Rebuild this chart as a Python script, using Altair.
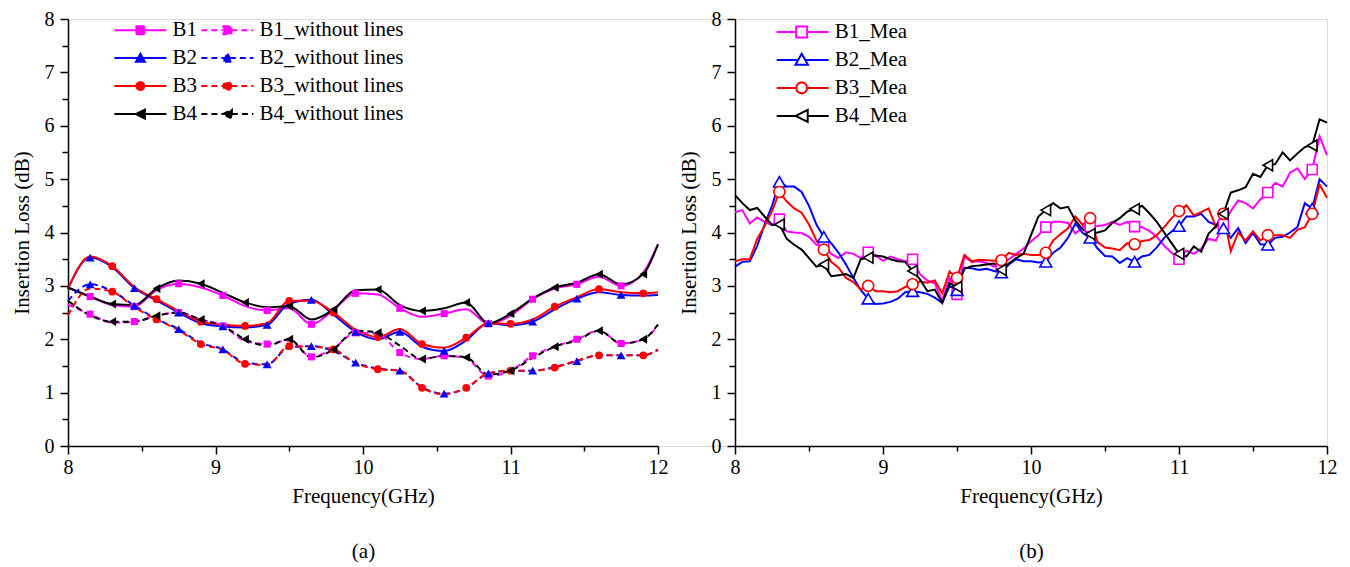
import math
import altair as alt
import pandas as pd

FONT = "Liberation Serif"

# ---------------- panel (a): simulated ----------------
FREQ_A = [8.0, 8.15, 8.3, 8.45, 8.6, 8.75, 8.9, 9.05, 9.2, 9.35, 9.5, 9.65, 9.8, 9.95,
          10.1, 10.25, 10.4, 10.55, 10.7, 10.85, 11.0, 11.15, 11.3, 11.45, 11.6, 11.75, 11.9, 12.0]
B1 = [2.97, 2.80, 2.64, 2.61, 2.92, 3.04, 2.97, 2.82, 2.62, 2.54, 2.58, 2.28, 2.55, 2.86,
      2.84, 2.58, 2.42, 2.48, 2.56, 2.29, 2.44, 2.75, 2.95, 3.03, 3.17, 3.00, 3.25, 3.78]
B2 = [2.95, 3.53, 3.35, 2.96, 2.73, 2.50, 2.30, 2.24, 2.22, 2.27, 2.67, 2.74, 2.46, 2.14,
      2.00, 2.14, 1.86, 1.78, 1.98, 2.30, 2.26, 2.33, 2.56, 2.76, 2.88, 2.83, 2.82, 2.83]
B3 = [2.95, 3.55, 3.37, 2.98, 2.75, 2.53, 2.33, 2.27, 2.25, 2.30, 2.72, 2.72, 2.50, 2.18,
      2.04, 2.19, 1.91, 1.84, 2.03, 2.30, 2.29, 2.37, 2.61, 2.79, 2.94, 2.88, 2.86, 2.88]
B4 = [2.97, 2.80, 2.66, 2.64, 2.95, 3.10, 3.04, 2.87, 2.69, 2.60, 2.62, 2.37, 2.56, 2.92,
      2.93, 2.64, 2.53, 2.58, 2.69, 2.30, 2.48, 2.76, 2.97, 3.06, 3.22, 3.03, 3.22, 3.78]
B1_WL = [2.65, 2.47, 2.31, 2.33, 2.44, 2.50, 2.37, 2.25, 1.97, 1.91, 1.98, 1.67, 1.83, 2.12,
         2.10, 1.75, 1.63, 1.69, 1.64, 1.31, 1.41, 1.69, 1.86, 2.00, 2.16, 1.92, 2.00, 2.25]
B2_WL = [2.72, 3.03, 2.90, 2.63, 2.38, 2.19, 1.93, 1.81, 1.56, 1.53, 1.85, 1.87, 1.78, 1.56,
         1.45, 1.41, 1.10, 0.98, 1.09, 1.36, 1.41, 1.41, 1.48, 1.59, 1.70, 1.70, 1.70, 1.80]
B3_WL = [2.45, 2.95, 2.89, 2.60, 2.37, 2.17, 1.91, 1.80, 1.54, 1.52, 1.87, 1.86, 1.81, 1.55,
         1.44, 1.41, 1.09, 0.97, 1.09, 1.36, 1.41, 1.41, 1.47, 1.60, 1.70, 1.70, 1.70, 1.81]
B4_WL = [2.72, 2.45, 2.33, 2.33, 2.44, 2.50, 2.37, 2.25, 2.00, 1.88, 2.00, 1.66, 1.81, 2.16,
         2.12, 1.88, 1.63, 1.69, 1.66, 1.34, 1.41, 1.65, 1.86, 1.98, 2.16, 1.92, 2.00, 2.28]

SER_A = ["B1", "B2", "B3", "B4",
         "B1_without lines", "B2_without lines", "B3_without lines", "B4_without lines"]
COLORS = ["#FF00FF", "#0000FF", "#FF0000", "#000000"]
COL_A = COLORS * 2

# ---------------- panel (b): measured ----------------
FREQ_B = [8.0, 8.05, 8.1, 8.15, 8.2, 8.25, 8.3, 8.35, 8.4, 8.45, 8.5, 8.55, 8.6, 8.65, 8.7,
          8.75, 8.8, 8.85, 8.9, 8.95, 9.0, 9.05, 9.1, 9.15, 9.2, 9.25, 9.3, 9.35, 9.4, 9.45,
          9.5, 9.55, 9.6, 9.65, 9.7, 9.75, 9.8, 9.85, 9.9, 9.95, 10.0, 10.05, 10.1, 10.15,
          10.2, 10.25, 10.3, 10.35, 10.4, 10.45, 10.5, 10.55, 10.6, 10.65, 10.7, 10.75, 10.8,
          10.85, 10.9, 10.95, 11.0, 11.05, 11.1, 11.15, 11.2, 11.25, 11.3, 11.35, 11.4, 11.45,
          11.5, 11.55, 11.6, 11.65, 11.7, 11.75, 11.8, 11.85, 11.9, 11.95, 12.0]
B1_MEA = [4.38, 4.42, 4.17, 4.28, 4.20, 4.14, 4.25, 4.02, 4.00, 3.99, 3.92, 3.77, 3.76, 3.60,
          3.52, 3.63, 3.60, 3.52, 3.63, 3.57, 3.47, 3.55, 3.50, 3.46, 3.50, 3.22, 3.10, 3.05,
          2.72, 3.15, 2.84, 3.55, 3.45, 3.46, 3.43, 3.36, 3.40, 3.50, 3.60, 3.70, 3.83,
          3.95, 4.10, 4.20, 4.20, 4.18, 3.98, 4.10, 4.11, 4.12, 4.14, 4.20, 4.14, 4.20, 4.11,
          4.10, 4.03, 3.92, 3.75, 3.62, 3.50, 3.66, 3.60, 3.70, 3.88, 3.85, 4.15, 4.40, 4.60,
          4.55, 4.45, 4.62, 4.75, 4.93, 4.86, 5.12, 5.20, 5.00, 5.18, 5.80, 5.45]
B2_MEA = [3.36, 3.45, 3.46, 3.75, 4.15, 4.50, 4.95, 4.86, 4.86, 4.76, 4.50, 4.15, 3.92, 3.80,
          3.62, 3.40, 3.15, 2.92, 2.76, 2.66, 2.67, 2.70, 2.76, 2.88, 2.90, 2.88, 2.85, 2.78,
          2.68, 3.00, 2.92, 3.34, 3.33, 3.30, 3.32, 3.28, 3.25, 3.40, 3.50, 3.46, 3.46,
          3.44, 3.45, 3.62, 3.72, 3.90, 4.17, 3.99, 3.90, 3.70, 3.56, 3.55, 3.43, 3.52, 3.45,
          3.55, 3.58, 3.72, 3.90, 4.02, 4.12, 4.30, 4.30, 4.35, 4.20, 4.14, 4.08, 3.90, 4.08,
          3.80, 3.99, 3.78, 3.77, 3.90, 3.92, 4.00, 4.10, 4.55, 4.45, 5.00, 4.86]
B3_MEA = [3.46, 3.50, 3.50, 3.88, 4.12, 4.40, 4.76, 4.58, 4.45, 4.37, 4.15, 3.85, 3.68, 3.45,
          3.34, 3.15, 3.07, 2.93, 3.00, 2.90, 2.90, 2.88, 2.90, 2.98, 3.03, 3.08, 3.06, 3.10,
          2.86, 3.27, 3.15, 3.58, 3.46, 3.49, 3.48, 3.47, 3.48, 3.62, 3.58, 3.60, 3.58,
          3.58, 3.62, 3.85, 3.97, 4.08, 4.30, 4.14, 4.27, 3.82, 3.72, 3.70, 3.67, 3.80, 3.78,
          3.84, 3.86, 3.95, 4.10, 4.27, 4.40, 4.51, 4.32, 4.38, 4.45, 4.10, 4.35, 3.65, 4.00,
          3.85, 4.02, 3.85, 3.95, 3.95, 3.95, 3.90, 4.05, 4.10, 4.35, 4.90, 4.65]
B4_MEA = [4.70, 4.55, 4.42, 4.46, 4.30, 4.14, 4.15, 3.88, 3.77, 3.68, 3.52, 3.36, 3.40, 3.18,
          3.20, 3.22, 3.15, 3.50, 3.53, 3.57, 3.55, 3.50, 3.46, 3.45, 3.28, 3.12, 2.90, 2.93,
          2.68, 3.05, 2.98, 3.32, 3.37, 3.38, 3.40, 3.42, 3.30, 3.42, 3.52, 3.60, 3.95,
          4.30, 4.42, 4.55, 4.45, 4.48, 4.22, 4.06, 3.97, 4.00, 4.04, 4.18, 4.27, 4.39, 4.44,
          4.50, 4.36, 4.20, 4.00, 3.80, 3.60, 3.55, 3.74, 3.64, 3.98, 4.12, 4.35, 4.75, 4.79,
          4.85, 5.10, 5.04, 5.26, 5.28, 5.50, 5.35, 5.48, 5.60, 5.63, 6.12, 6.06]

SER_B = ["B1_Mea", "B2_Mea", "B3_Mea", "B4_Mea"]
COL_B = COLORS
SHAPES = ["square", "triangle-up", "circle", "triangle-left"]


# ---------- legend symbol geometry (line + marker), in symbol units ----------
def circle_path(cx, r):
    pts = [(cx + r * math.cos(math.radians(a)), r * math.sin(math.radians(a))) for a in range(0, 360, 30)]
    return "M" + "L".join(f"{x:.3f},{y:.3f}" for x, y in pts) + "Z"


PATH_A = [
    "M-2.1,0H2.3M3.9,0H8.3M2.3,-0.8H3.9V0.8H2.3Z",
    "M-2.1,0H2.62M3.58,0H8.3M3.1,-0.85L4.0,0.75L2.2,0.75Z",
    "M-2.1,0H2.3M3.9,0H8.3" + circle_path(3.1, 0.8),
    "M-2.1,0H2.2M4.0,0H8.3M2.2,0L4.0,-0.9L4.0,0.9Z",
]
PATH_B = [
    "M-2.1,0H1.8M4.0,0H8.3M1.8,-1.1H4.0V1.1H1.8Z",
    "M-2.1,0H2.19M3.61,0H8.3M2.9,-1.25L4.15,0.95L1.65,0.95Z",
    "M-2.1,0H1.8M4.0,0H8.3" + circle_path(2.9, 1.1),
    "M-2.1,0H1.7M4.1,0H8.3M1.7,0L4.1,-1.2L4.1,1.2Z",
]


def by_prefix(options):
    expr = f"'{options[3]}'"
    for k in (2, 1, 0):
        expr = f"indexof(datum.value, 'B{k + 1}') === 0 ? '{options[k]}' : ({expr})"
    return expr


# ---------- build tables ----------
rows = []
vals_a = [B1, B2, B3, B4, B1_WL, B2_WL, B3_WL, B4_WL]
for k, (name, vals) in enumerate(zip(SER_A, vals_a)):
    grp = k % 4
    for i, (f, v) in enumerate(zip(FREQ_A, vals)):
        if grp < 2:
            mk = (i % 2 == 1) and i <= 25
        else:
            mk = (i % 2 == 0) and 2 <= i <= 26
        rows.append({"f": f, "v": v, "series": name,
                     "kind": "solid" if k < 4 else "dashed",
                     "shp": SHAPES[grp], "mk": mk})
df_a = pd.DataFrame(rows)

rows = []
vals_b = [B1_MEA, B2_MEA, B3_MEA, B4_MEA]
for k, (name, vals) in enumerate(zip(SER_B, vals_b)):
    for i, (f, v) in enumerate(zip(FREQ_B, vals)):
        rows.append({"f": f, "v": v, "series": name, "shp": SHAPES[k],
                     "mk": (i % 6 == 0) and 6 <= i <= 78})
df_b = pd.DataFrame(rows)

XV = [8 + 0.5 * i for i in range(9)]
YV = [0.5 * i for i in range(17)]
LBL = "datum.value % 1 === 0 ? format(datum.value, 'd') : ''"
MAJ = "datum.value % 1 === 0"

LEFT_RANGE = [0, 590]
RIGHT_RANGE = [667, 1259]


def enc_xy(rng, y_offset, tag):
    xa = alt.Axis(values=XV, labelExpr=LBL, orient="bottom",
                  tickSize={"condition": {"test": MAJ, "value": 8}, "value": 5},
                  labelPadding=3, titlePadding=8, titleLineHeight=55,
                  labelFlush=False, labelOverlap=False)
    ya = alt.Axis(values=YV, labelExpr=LBL, orient="left", offset=y_offset,
                  tickSize={"condition": {"test": MAJ, "value": 8}, "value": 6},
                  labelPadding=6, titlePadding=12, labelFlush=False, labelOverlap=False)
    return dict(
        x=alt.X("f:Q", scale=alt.Scale(domain=[8, 12], range=rng, nice=False, zero=False),
                axis=xa, title=["Frequency(GHz)", tag]),
        y=alt.Y("v:Q", scale=alt.Scale(domain=[0, 8], nice=False),
                axis=ya, title="Insertion Loss (dB)"),
    )


COLOR = alt.Color("series:N", scale=alt.Scale(domain=SER_A + SER_B, range=COL_A + COL_B), legend=None)


def legend_common():
    return dict(title=None, orient="none", rowPadding=6, padding=0, symbolSize=100,
                symbolStrokeWidth=2, labelFont=FONT, labelFontSize=21, labelColor="black",
                labelOffset=37, symbolOpacity=1, labelLimit=0)


# ---------- panel (a) ----------
XY_A = enc_xy(LEFT_RANGE, 0, "(a)")
base_a = alt.Chart(df_a)
layers_a = [
    base_a.transform_filter("datum.kind == 'solid'").mark_line(
        interpolate="monotone", strokeWidth=2).encode(color=COLOR, **XY_A),
    base_a.transform_filter("datum.kind == 'dashed'").mark_line(
        interpolate="monotone", strokeWidth=2, strokeDash=[6, 4]).encode(color=COLOR, **XY_A),
]
for s, sz in zip(SHAPES, [50, 80, 60, 80]):
    layers_a.append(
        base_a.transform_filter(f"datum.mk && datum.shp == '{s}'").mark_point(
            shape=s, filled=True, size=sz, opacity=1).encode(color=COLOR, **XY_A))
leg_a = alt.Legend(legendX=46.4, legendY=0.6, columns=2, columnPadding=0,
                   symbolType=alt.ExprRef(by_prefix(PATH_A)),
                   symbolStrokeColor=alt.ExprRef(by_prefix(COLORS)),
                   symbolDash=alt.ExprRef("indexof(datum.value, 'without') >= 0 ? [6, 4] : [1, 0]"),
                   **legend_common())
layers_a.append(
    base_a.transform_filter("datum.f < 0").mark_point(filled=True, size=100, opacity=1).encode(
        fill=alt.Fill("series:N", scale=alt.Scale(domain=SER_A, range=COL_A), legend=leg_a),
        **XY_A))
panel_a = alt.layer(*layers_a)

# ---------- panel (b) ----------
XY_B = enc_xy(RIGHT_RANGE, -667, "(b)")
base_b = alt.Chart(df_b)
layers_b = [base_b.mark_line(strokeWidth=2).encode(color=COLOR, **XY_B)]
for s, sz in zip(SHAPES, [100, 144, 121, 121]):
    layers_b.append(
        base_b.transform_filter(f"datum.mk && datum.shp == '{s}'").mark_point(
            shape=s, filled=False, fill="white", fillOpacity=1, size=sz, strokeWidth=1.6,
            opacity=1).encode(color=COLOR, **XY_B))
leg_b = alt.Legend(legendX=667 + 41.7, legendY=2.4, columns=1,
                   symbolType=alt.ExprRef(by_prefix(PATH_B)),
                   symbolFillColor="transparent",
                   **legend_common())
layers_b.append(
    base_b.transform_filter("datum.f < 0").mark_point(filled=False, size=100, opacity=1).encode(
        stroke=alt.Stroke("series:N", scale=alt.Scale(domain=SER_B, range=COL_B), legend=leg_b),
        **XY_B))
panel_b = alt.layer(*layers_b)

chart = alt.layer(panel_a, panel_b).resolve_scale(x="independent", y="independent").properties(
    width=1259, height=427,
    autosize=alt.AutoSizeParams(type="none"),
    padding={"left": 60, "top": 11, "right": 15, "bottom": 122}
).configure_view(stroke=None).configure(font=FONT).configure_axis(
    grid=False, domainColor="black", domainWidth=1.5, tickColor="black", tickWidth=1.5,
    labelFont=FONT, labelFontSize=20, labelColor="black",
    titleFont=FONT, titleFontSize=21, titleFontWeight="normal", titleColor="black")

chart.save("out.html", embed_options={"renderer": "svg", "actions": False})
